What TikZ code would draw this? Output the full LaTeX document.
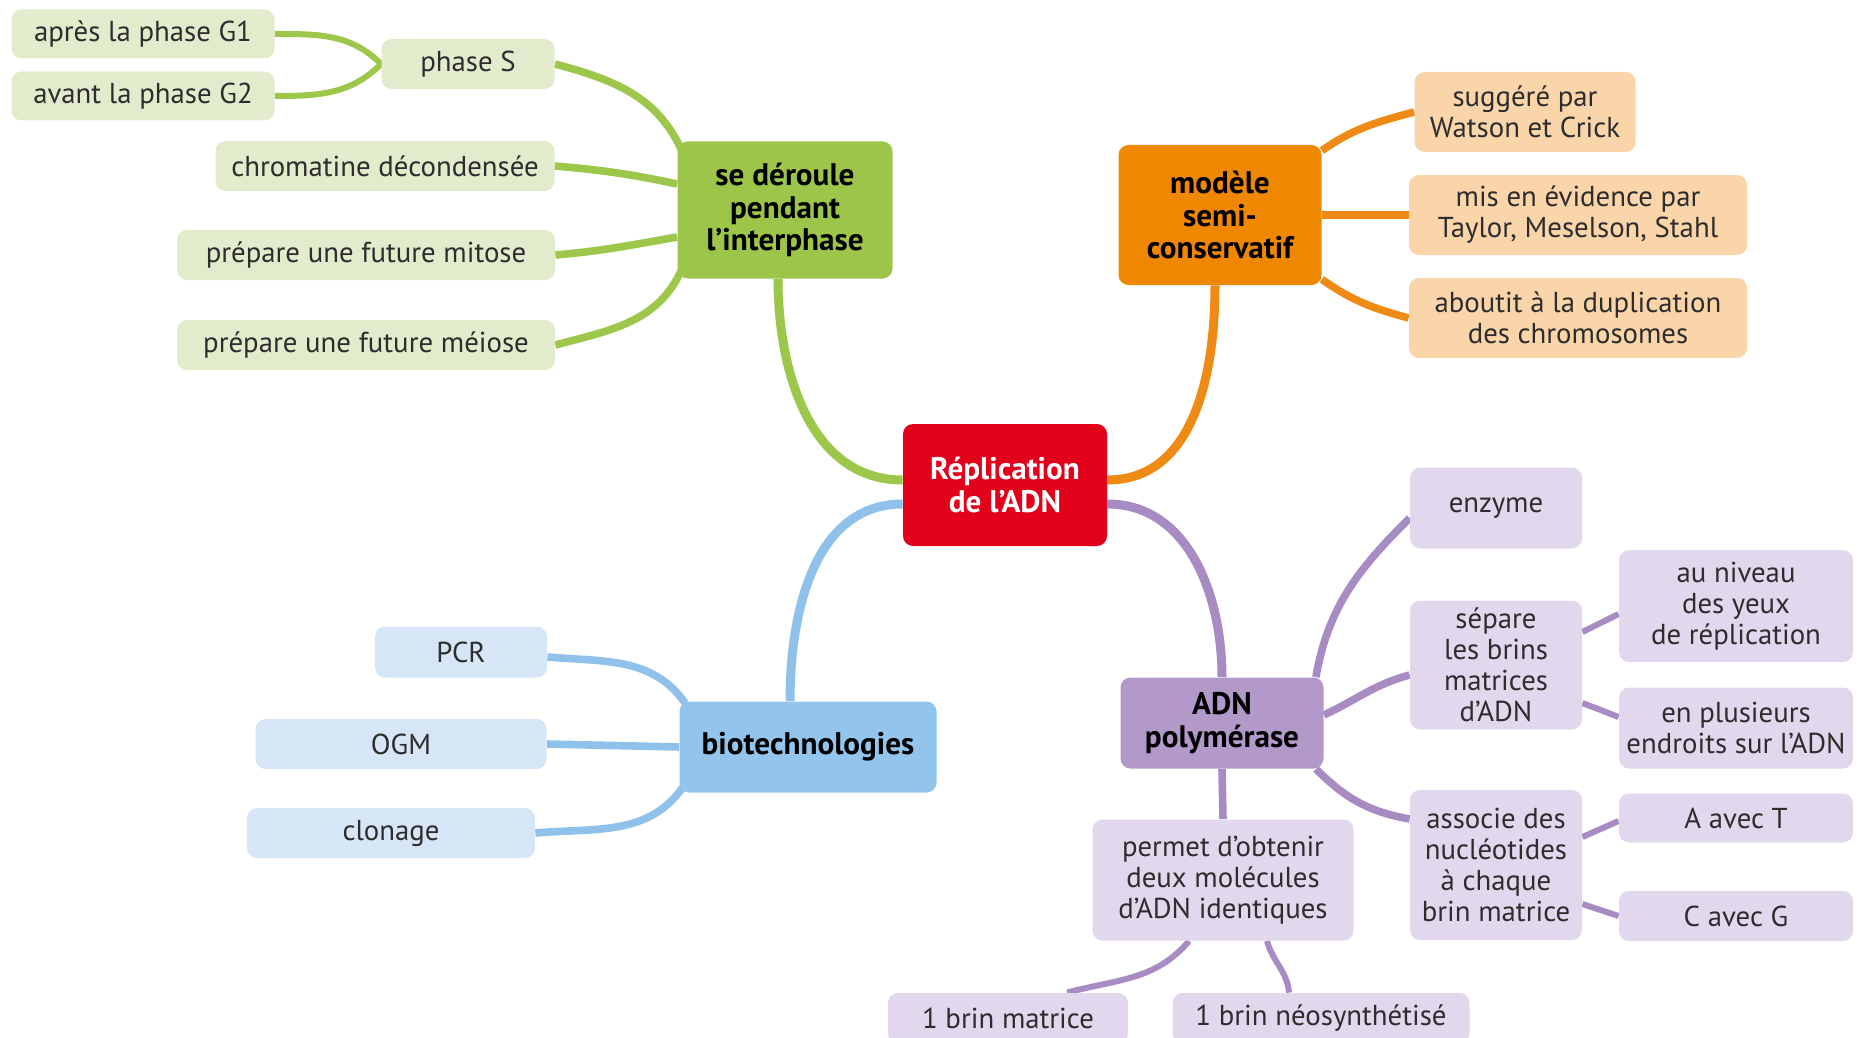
\documentclass[tikz,border=0pt]{standalone}
\usepackage{fontspec}
\setmainfont{PT Sans}
\usetikzlibrary{backgrounds}

\definecolor{rouge}{RGB}{226,0,26}
\definecolor{vertfonce}{RGB}{156,197,74}
\definecolor{vertclair}{RGB}{226,236,205}
\definecolor{vertlien}{RGB}{157,199,75}
\definecolor{orangefonce}{RGB}{240,135,0}
\definecolor{orangeclair}{RGB}{251,213,170}
\definecolor{orangelien}{RGB}{239,138,20}
\definecolor{violetfonce}{RGB}{178,153,201}
\definecolor{violetclair}{RGB}{226,216,237}
\definecolor{violetlien}{RGB}{169,139,196}
\definecolor{bleufonce}{RGB}{146,196,236}
\definecolor{bleuclair}{RGB}{214,230,246}
\definecolor{bleulien}{RGB}{143,193,234}
\definecolor{texte}{RGB}{45,45,45}

\tikzset{
  boite/.style 2 args={rounded corners=5pt, align=center, inner sep=1pt, text=texte,
    minimum width=#1pt, minimum height=#2pt, font=\fontsize{14.4}{15.5}\selectfont},
  theme/.style 2 args={boite={#1}{#2}, text=black, font=\bfseries\fontsize{15.6}{16.3}\selectfont},
  branche/.style={line width=4.5pt},
  lien/.style={line width=3.8pt},
  souslien/.style={line width=3pt},
}

\begin{document}
\begin{tikzpicture}[x=0.5pt,y=-0.5pt]
\useasboundingbox (0,0) rectangle (1858,1038);

\node[theme={102}{61},fill=rouge,text=white] (rep) at (1005,485) {Réplication\\de l’ADN};

\node[theme={107.5}{68.5},fill=vertfonce] (interph) at (785,210) {se déroule\\pendant\\l’interphase};
\node[boite={131.5}{24.5},fill=vertclair] (g1) at (143,34) {après la phase G1};
\node[boite={131.5}{24.5},fill=vertclair] (g2) at (143,96) {avant la phase G2};
\node[boite={86.5}{25},fill=vertclair] (phS) at (468,64) {phase S};
\node[boite={169.5}{25},fill=vertclair] (chrom) at (385,166) {chromatine décondensée};
\node[boite={189}{25},fill=vertclair] (mitose) at (366,255) {prépare une future mitose};
\node[boite={189}{25},fill=vertclair] (meiose) at (366,345) {prépare une future méiose};

\node[theme={101.5}{70},fill=orangefonce] (semi) at (1220,215) {modèle\\semi-\\conservatif};
\node[boite={110.5}{40},fill=orangeclair] (watson) at (1525,112) {suggéré par\\Watson et Crick};
\node[boite={169}{40},fill=orangeclair] (taylor) at (1578,215) {mis en évidence par\\Taylor, Meselson, Stahl};
\node[boite={169}{40},fill=orangeclair] (dupli) at (1578,318) {aboutit à la duplication\\des chromosomes};

\node[theme={101.5}{45.5},fill=violetfonce] (poly) at (1222,723) {ADN\\polymérase};
\node[boite={86}{40.5},fill=violetclair] (enzyme) at (1496,508) {enzyme};
\node[boite={86}{64.5},fill=violetclair] (separe) at (1496,665) {sépare\\les brins\\matrices\\d’ADN};
\node[boite={117}{56},fill=violetclair] (niveau) at (1736,606) {au niveau\\des yeux\\de réplication};
\node[boite={117}{40.5},fill=violetclair] (plusieurs) at (1736,728) {en plusieurs\\endroits sur l’ADN};
\node[boite={86}{75},fill=violetclair] (associe) at (1496,865) {associe des\\nucléotides\\à chaque\\brin matrice};
\node[boite={117}{24.5},fill=violetclair] (AT) at (1736,818) {A avec T};
\node[boite={117}{25},fill=violetclair] (CG) at (1736,916) {C avec G};
\node[boite={130.5}{60.5},fill=violetclair] (permet) at (1223,880) {permet d’obtenir\\deux molécules\\d’ADN identiques};
\node[boite={120}{25},fill=violetclair] (matrice) at (1008,1018) {1 brin matrice};
\node[boite={148.5}{25},fill=violetclair] (neo) at (1321,1018) {1 brin néosynthétisé};

\node[theme={128.5}{45.5},fill=bleufonce] (biotech) at (808,747) {biotechnologies};
\node[boite={86}{25.5},fill=bleuclair] (PCR) at (461,652) {PCR};
\node[boite={145.5}{25},fill=bleuclair] (OGM) at (401,744) {OGM};
\node[boite={144}{25},fill=bleuclair] (clonage) at (391,833) {clonage};

\begin{scope}[on background layer]
\draw[branche,vertlien] ([yshift=2.5pt]rep.west) to[out=180,in=-90] ([xshift=-3.5pt]interph.south);
\draw[branche,orangelien] ([yshift=2.5pt]rep.east) to[out=0,in=-90] ([xshift=-2.5pt]semi.south);
\draw[branche,violetlien] ([yshift=-9.5pt]rep.east) to[out=0,in=90] (poly.north);
\draw[branche,bleulien] ([yshift=-9.5pt]rep.west) to[out=180,in=90] ([xshift=-9pt]biotech.north);

\draw[lien,vertlien] (phS.east) to[out=-15,in=115] ([xshift=2pt,yshift=-4pt]interph.north west);
\draw[lien,vertlien] (chrom.east) to[out=-5,in=168] ([yshift=13pt]interph.west);
\draw[lien,vertlien] (mitose.east) to[out=5,in=190] ([yshift=-13.5pt]interph.west);
\draw[lien,vertlien] (meiose.east) to[out=15,in=-115] ([xshift=2pt,yshift=4pt]interph.south west);
\draw[souslien,vertlien] (phS.west) to[out=135,in=0] (g1.east);
\draw[souslien,vertlien] (phS.west) to[out=225,in=0] (g2.east);

\draw[lien,orangelien] ([yshift=-3pt]semi.north east) to[out=35,in=195] (watson.west);
\draw[lien,orangelien] (semi.east) -- (taylor.west);
\draw[lien,orangelien] ([yshift=3pt]semi.south east) to[out=-35,in=165] (dupli.west);

\draw[lien,violetlien] ([xshift=-4pt]poly.north east) to[out=80,in=225] ([yshift=-5pt]enzyme.west);
\draw[lien,violetlien] ([yshift=4pt]poly.east) to[out=25,in=195] ([yshift=-5pt]separe.west);
\draw[lien,violetlien] ([xshift=-4pt]poly.south east) to[out=-45,in=170] ([yshift=23pt]associe.west);
\draw[lien,violetlien] (poly.south) -- (permet.north);
\draw[souslien,violetlien] ([yshift=16.5pt]separe.east) -- ([yshift=-4pt]niveau.west);
\draw[souslien,violetlien] ([yshift=-19pt]separe.east) -- ([yshift=5.5pt]plusieurs.west);
\draw[souslien,violetlien] ([yshift=14pt]associe.east) -- ([yshift=-1.5pt]AT.west);
\draw[souslien,violetlien] ([yshift=-19.5pt]associe.east) -- (CG.west);
\draw[souslien,violetlien] ([xshift=-17pt]permet.south) to[out=-130,in=15] ([xshift=29.5pt]matrice.north);
\draw[souslien,violetlien] ([xshift=22pt]permet.south) to[out=-75,in=95] ([xshift=-16pt]neo.north);

\draw[lien,bleulien] ([yshift=-2.5pt]PCR.east) to[out=-5,in=125] ([xshift=3pt,yshift=-1pt]biotech.north west);
\draw[lien,bleulien] (OGM.east) -- (biotech.west);
\draw[lien,bleulien] (clonage.east) to[out=5,in=-125] ([xshift=2pt,yshift=3pt]biotech.south west);
\end{scope}
\end{tikzpicture}
\end{document}
